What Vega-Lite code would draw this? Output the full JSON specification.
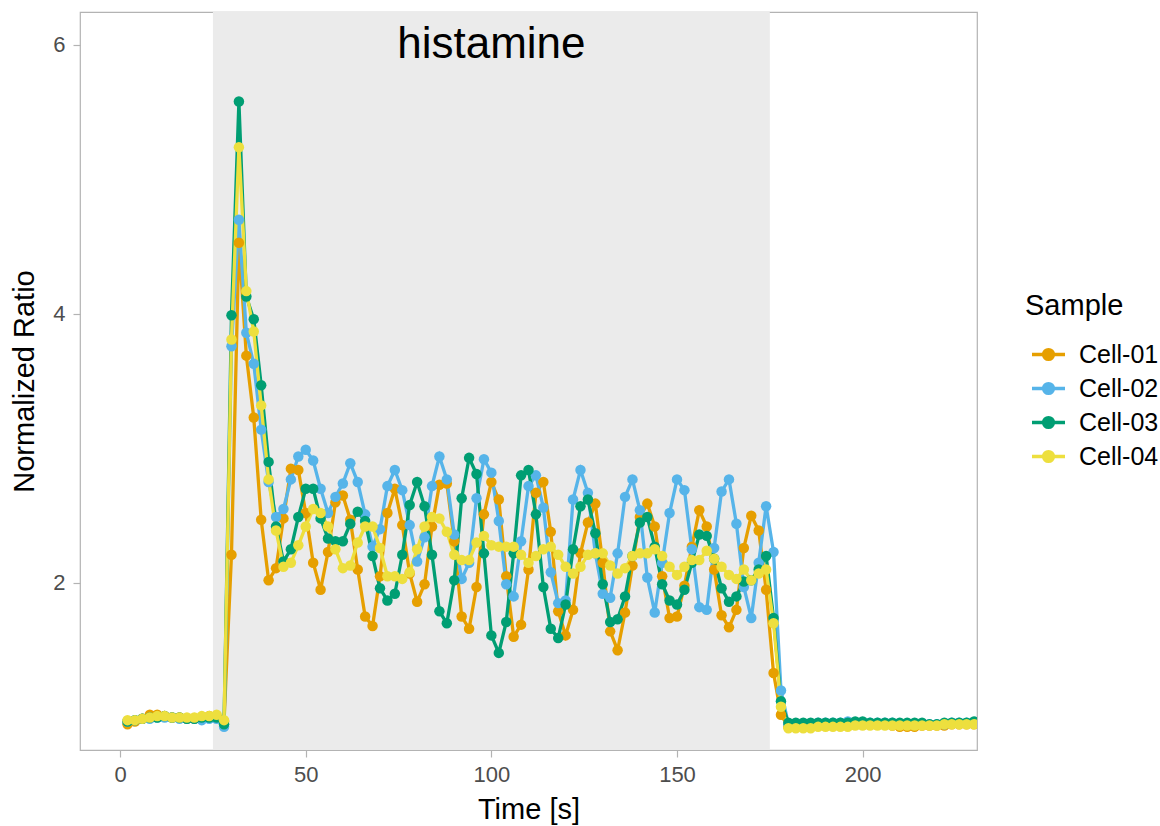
{
"$schema":"https://vega.github.io/schema/vega-lite/v6.json",
"width":897,"height":738,
"autosize":{"type":"none"},
"padding":{"left":80,"top":12,"right":183,"bottom":76},
"background":"white",
"config":{"view":{"stroke":"#B3B3B3","strokeWidth":1.2},"font":"Liberation Sans"},
"data":{"values":[
{"t":2,"s":"Cell-01","v":0.95},{"t":4,"s":"Cell-01","v":0.97},{"t":6,"s":"Cell-01","v":0.99},{"t":8,"s":"Cell-01","v":1.02},{"t":10,"s":"Cell-01","v":1.02},{"t":12,"s":"Cell-01","v":1.01},{"t":14,"s":"Cell-01","v":1.00},{"t":16,"s":"Cell-01","v":1.00},{"t":18,"s":"Cell-01","v":0.99},{"t":20,"s":"Cell-01","v":0.99},{"t":22,"s":"Cell-01","v":1.00},{"t":24,"s":"Cell-01","v":1.01},{"t":26,"s":"Cell-01","v":1.01},{"t":28,"s":"Cell-01","v":0.97},{"t":30,"s":"Cell-01","v":2.21},{"t":32,"s":"Cell-01","v":4.53},{"t":34,"s":"Cell-01","v":3.69},{"t":36,"s":"Cell-01","v":3.23},{"t":38,"s":"Cell-01","v":2.47},{"t":40,"s":"Cell-01","v":2.02},{"t":42,"s":"Cell-01","v":2.11},{"t":44,"s":"Cell-01","v":2.48},{"t":46,"s":"Cell-01","v":2.85},{"t":48,"s":"Cell-01","v":2.84},{"t":50,"s":"Cell-01","v":2.52},{"t":52,"s":"Cell-01","v":2.15},{"t":54,"s":"Cell-01","v":1.95},{"t":56,"s":"Cell-01","v":2.23},{"t":58,"s":"Cell-01","v":2.60},{"t":60,"s":"Cell-01","v":2.65},{"t":62,"s":"Cell-01","v":2.47},{"t":64,"s":"Cell-01","v":2.10},{"t":66,"s":"Cell-01","v":1.75},{"t":68,"s":"Cell-01","v":1.68},{"t":70,"s":"Cell-01","v":2.05},{"t":72,"s":"Cell-01","v":2.52},{"t":74,"s":"Cell-01","v":2.70},{"t":76,"s":"Cell-01","v":2.43},{"t":78,"s":"Cell-01","v":2.07},{"t":80,"s":"Cell-01","v":1.86},{"t":82,"s":"Cell-01","v":1.99},{"t":84,"s":"Cell-01","v":2.42},{"t":86,"s":"Cell-01","v":2.73},{"t":88,"s":"Cell-01","v":2.74},{"t":90,"s":"Cell-01","v":2.31},{"t":92,"s":"Cell-01","v":1.75},{"t":94,"s":"Cell-01","v":1.66},{"t":96,"s":"Cell-01","v":1.97},{"t":98,"s":"Cell-01","v":2.51},{"t":100,"s":"Cell-01","v":2.75},{"t":102,"s":"Cell-01","v":2.62},{"t":104,"s":"Cell-01","v":2.05},{"t":106,"s":"Cell-01","v":1.60},{"t":108,"s":"Cell-01","v":1.69},{"t":110,"s":"Cell-01","v":2.10},{"t":112,"s":"Cell-01","v":2.67},{"t":114,"s":"Cell-01","v":2.75},{"t":116,"s":"Cell-01","v":2.38},{"t":118,"s":"Cell-01","v":1.79},{"t":120,"s":"Cell-01","v":1.61},{"t":122,"s":"Cell-01","v":1.80},{"t":124,"s":"Cell-01","v":2.22},{"t":126,"s":"Cell-01","v":2.45},{"t":128,"s":"Cell-01","v":2.59},{"t":130,"s":"Cell-01","v":2.15},{"t":132,"s":"Cell-01","v":1.64},{"t":134,"s":"Cell-01","v":1.50},{"t":136,"s":"Cell-01","v":1.78},{"t":138,"s":"Cell-01","v":2.13},{"t":140,"s":"Cell-01","v":2.49},{"t":142,"s":"Cell-01","v":2.59},{"t":144,"s":"Cell-01","v":2.42},{"t":146,"s":"Cell-01","v":2.05},{"t":148,"s":"Cell-01","v":1.74},{"t":150,"s":"Cell-01","v":1.75},{"t":152,"s":"Cell-01","v":1.98},{"t":154,"s":"Cell-01","v":2.27},{"t":156,"s":"Cell-01","v":2.54},{"t":158,"s":"Cell-01","v":2.42},{"t":160,"s":"Cell-01","v":2.10},{"t":162,"s":"Cell-01","v":1.76},{"t":164,"s":"Cell-01","v":1.67},{"t":166,"s":"Cell-01","v":1.80},{"t":168,"s":"Cell-01","v":2.26},{"t":170,"s":"Cell-01","v":2.50},{"t":172,"s":"Cell-01","v":2.39},{"t":174,"s":"Cell-01","v":1.95},{"t":176,"s":"Cell-01","v":1.33},{"t":178,"s":"Cell-01","v":1.02},{"t":180,"s":"Cell-01","v":0.93},{"t":182,"s":"Cell-01","v":0.93},{"t":184,"s":"Cell-01","v":0.94},{"t":186,"s":"Cell-01","v":0.94},{"t":188,"s":"Cell-01","v":0.94},{"t":190,"s":"Cell-01","v":0.94},{"t":192,"s":"Cell-01","v":0.95},{"t":194,"s":"Cell-01","v":0.95},{"t":196,"s":"Cell-01","v":0.95},{"t":198,"s":"Cell-01","v":0.95},{"t":200,"s":"Cell-01","v":0.95},{"t":202,"s":"Cell-01","v":0.95},{"t":204,"s":"Cell-01","v":0.95},{"t":206,"s":"Cell-01","v":0.95},{"t":208,"s":"Cell-01","v":0.94},{"t":210,"s":"Cell-01","v":0.93},{"t":212,"s":"Cell-01","v":0.93},{"t":214,"s":"Cell-01","v":0.93},{"t":216,"s":"Cell-01","v":0.94},{"t":218,"s":"Cell-01","v":0.94},{"t":220,"s":"Cell-01","v":0.94},{"t":222,"s":"Cell-01","v":0.94},{"t":224,"s":"Cell-01","v":0.95},{"t":226,"s":"Cell-01","v":0.95},{"t":228,"s":"Cell-01","v":0.95},{"t":230,"s":"Cell-01","v":0.95},{"t":232,"s":"Cell-01","v":0.95},
{"t":2,"s":"Cell-02","v":0.97},{"t":4,"s":"Cell-02","v":0.98},{"t":6,"s":"Cell-02","v":0.99},{"t":8,"s":"Cell-02","v":0.99},{"t":10,"s":"Cell-02","v":1.00},{"t":12,"s":"Cell-02","v":1.00},{"t":14,"s":"Cell-02","v":1.00},{"t":16,"s":"Cell-02","v":0.99},{"t":18,"s":"Cell-02","v":0.99},{"t":20,"s":"Cell-02","v":0.99},{"t":22,"s":"Cell-02","v":0.98},{"t":24,"s":"Cell-02","v":0.99},{"t":26,"s":"Cell-02","v":0.99},{"t":28,"s":"Cell-02","v":0.93},{"t":30,"s":"Cell-02","v":3.76},{"t":32,"s":"Cell-02","v":4.70},{"t":34,"s":"Cell-02","v":3.86},{"t":36,"s":"Cell-02","v":3.63},{"t":38,"s":"Cell-02","v":3.14},{"t":40,"s":"Cell-02","v":2.75},{"t":42,"s":"Cell-02","v":2.49},{"t":44,"s":"Cell-02","v":2.55},{"t":46,"s":"Cell-02","v":2.77},{"t":48,"s":"Cell-02","v":2.94},{"t":50,"s":"Cell-02","v":2.99},{"t":52,"s":"Cell-02","v":2.91},{"t":54,"s":"Cell-02","v":2.70},{"t":56,"s":"Cell-02","v":2.52},{"t":58,"s":"Cell-02","v":2.64},{"t":60,"s":"Cell-02","v":2.74},{"t":62,"s":"Cell-02","v":2.89},{"t":64,"s":"Cell-02","v":2.75},{"t":66,"s":"Cell-02","v":2.51},{"t":68,"s":"Cell-02","v":2.27},{"t":70,"s":"Cell-02","v":2.40},{"t":72,"s":"Cell-02","v":2.72},{"t":74,"s":"Cell-02","v":2.84},{"t":76,"s":"Cell-02","v":2.69},{"t":78,"s":"Cell-02","v":2.43},{"t":80,"s":"Cell-02","v":2.16},{"t":82,"s":"Cell-02","v":2.34},{"t":84,"s":"Cell-02","v":2.72},{"t":86,"s":"Cell-02","v":2.94},{"t":88,"s":"Cell-02","v":2.77},{"t":90,"s":"Cell-02","v":2.36},{"t":92,"s":"Cell-02","v":2.03},{"t":94,"s":"Cell-02","v":2.15},{"t":96,"s":"Cell-02","v":2.63},{"t":98,"s":"Cell-02","v":2.92},{"t":100,"s":"Cell-02","v":2.82},{"t":102,"s":"Cell-02","v":2.46},{"t":104,"s":"Cell-02","v":1.99},{"t":106,"s":"Cell-02","v":1.90},{"t":108,"s":"Cell-02","v":2.31},{"t":110,"s":"Cell-02","v":2.72},{"t":112,"s":"Cell-02","v":2.80},{"t":114,"s":"Cell-02","v":2.56},{"t":116,"s":"Cell-02","v":2.08},{"t":118,"s":"Cell-02","v":1.85},{"t":120,"s":"Cell-02","v":1.87},{"t":122,"s":"Cell-02","v":2.62},{"t":124,"s":"Cell-02","v":2.84},{"t":126,"s":"Cell-02","v":2.67},{"t":128,"s":"Cell-02","v":2.22},{"t":130,"s":"Cell-02","v":1.92},{"t":132,"s":"Cell-02","v":1.89},{"t":134,"s":"Cell-02","v":2.22},{"t":136,"s":"Cell-02","v":2.64},{"t":138,"s":"Cell-02","v":2.77},{"t":140,"s":"Cell-02","v":2.54},{"t":142,"s":"Cell-02","v":2.04},{"t":144,"s":"Cell-02","v":1.78},{"t":146,"s":"Cell-02","v":2.15},{"t":148,"s":"Cell-02","v":2.52},{"t":150,"s":"Cell-02","v":2.77},{"t":152,"s":"Cell-02","v":2.69},{"t":154,"s":"Cell-02","v":2.25},{"t":156,"s":"Cell-02","v":1.82},{"t":158,"s":"Cell-02","v":1.80},{"t":160,"s":"Cell-02","v":2.26},{"t":162,"s":"Cell-02","v":2.68},{"t":164,"s":"Cell-02","v":2.77},{"t":166,"s":"Cell-02","v":2.44},{"t":168,"s":"Cell-02","v":1.97},{"t":170,"s":"Cell-02","v":1.74},{"t":172,"s":"Cell-02","v":2.15},{"t":174,"s":"Cell-02","v":2.57},{"t":176,"s":"Cell-02","v":2.23},{"t":178,"s":"Cell-02","v":1.20},{"t":180,"s":"Cell-02","v":0.95},{"t":182,"s":"Cell-02","v":0.95},{"t":184,"s":"Cell-02","v":0.95},{"t":186,"s":"Cell-02","v":0.95},{"t":188,"s":"Cell-02","v":0.96},{"t":190,"s":"Cell-02","v":0.96},{"t":192,"s":"Cell-02","v":0.96},{"t":194,"s":"Cell-02","v":0.96},{"t":196,"s":"Cell-02","v":0.97},{"t":198,"s":"Cell-02","v":0.96},{"t":200,"s":"Cell-02","v":0.96},{"t":202,"s":"Cell-02","v":0.96},{"t":204,"s":"Cell-02","v":0.96},{"t":206,"s":"Cell-02","v":0.96},{"t":208,"s":"Cell-02","v":0.96},{"t":210,"s":"Cell-02","v":0.95},{"t":212,"s":"Cell-02","v":0.95},{"t":214,"s":"Cell-02","v":0.95},{"t":216,"s":"Cell-02","v":0.95},{"t":218,"s":"Cell-02","v":0.95},{"t":220,"s":"Cell-02","v":0.95},{"t":222,"s":"Cell-02","v":0.95},{"t":224,"s":"Cell-02","v":0.96},{"t":226,"s":"Cell-02","v":0.96},{"t":228,"s":"Cell-02","v":0.96},{"t":230,"s":"Cell-02","v":0.96},{"t":232,"s":"Cell-02","v":0.96},
{"t":2,"s":"Cell-03","v":0.97},{"t":4,"s":"Cell-03","v":0.98},{"t":6,"s":"Cell-03","v":0.99},{"t":8,"s":"Cell-03","v":1.00},{"t":10,"s":"Cell-03","v":1.00},{"t":12,"s":"Cell-03","v":1.01},{"t":14,"s":"Cell-03","v":1.00},{"t":16,"s":"Cell-03","v":1.00},{"t":18,"s":"Cell-03","v":0.99},{"t":20,"s":"Cell-03","v":0.99},{"t":22,"s":"Cell-03","v":1.00},{"t":24,"s":"Cell-03","v":1.00},{"t":26,"s":"Cell-03","v":1.00},{"t":28,"s":"Cell-03","v":0.95},{"t":30,"s":"Cell-03","v":3.99},{"t":32,"s":"Cell-03","v":5.58},{"t":34,"s":"Cell-03","v":4.13},{"t":36,"s":"Cell-03","v":3.96},{"t":38,"s":"Cell-03","v":3.47},{"t":40,"s":"Cell-03","v":2.90},{"t":42,"s":"Cell-03","v":2.42},{"t":44,"s":"Cell-03","v":2.16},{"t":46,"s":"Cell-03","v":2.25},{"t":48,"s":"Cell-03","v":2.49},{"t":50,"s":"Cell-03","v":2.70},{"t":52,"s":"Cell-03","v":2.70},{"t":54,"s":"Cell-03","v":2.48},{"t":56,"s":"Cell-03","v":2.33},{"t":58,"s":"Cell-03","v":2.31},{"t":60,"s":"Cell-03","v":2.31},{"t":62,"s":"Cell-03","v":2.44},{"t":64,"s":"Cell-03","v":2.53},{"t":66,"s":"Cell-03","v":2.46},{"t":68,"s":"Cell-03","v":2.20},{"t":70,"s":"Cell-03","v":1.96},{"t":72,"s":"Cell-03","v":1.87},{"t":74,"s":"Cell-03","v":1.92},{"t":76,"s":"Cell-03","v":2.21},{"t":78,"s":"Cell-03","v":2.58},{"t":80,"s":"Cell-03","v":2.75},{"t":82,"s":"Cell-03","v":2.57},{"t":84,"s":"Cell-03","v":2.21},{"t":86,"s":"Cell-03","v":1.79},{"t":88,"s":"Cell-03","v":1.70},{"t":90,"s":"Cell-03","v":2.02},{"t":92,"s":"Cell-03","v":2.63},{"t":94,"s":"Cell-03","v":2.93},{"t":96,"s":"Cell-03","v":2.81},{"t":98,"s":"Cell-03","v":2.22},{"t":100,"s":"Cell-03","v":1.61},{"t":102,"s":"Cell-03","v":1.48},{"t":104,"s":"Cell-03","v":1.71},{"t":106,"s":"Cell-03","v":2.22},{"t":108,"s":"Cell-03","v":2.80},{"t":110,"s":"Cell-03","v":2.84},{"t":112,"s":"Cell-03","v":2.51},{"t":114,"s":"Cell-03","v":1.97},{"t":116,"s":"Cell-03","v":1.66},{"t":118,"s":"Cell-03","v":1.59},{"t":120,"s":"Cell-03","v":1.84},{"t":122,"s":"Cell-03","v":2.25},{"t":124,"s":"Cell-03","v":2.57},{"t":126,"s":"Cell-03","v":2.62},{"t":128,"s":"Cell-03","v":2.37},{"t":130,"s":"Cell-03","v":1.99},{"t":132,"s":"Cell-03","v":1.71},{"t":134,"s":"Cell-03","v":1.73},{"t":136,"s":"Cell-03","v":1.90},{"t":138,"s":"Cell-03","v":2.20},{"t":140,"s":"Cell-03","v":2.45},{"t":142,"s":"Cell-03","v":2.49},{"t":144,"s":"Cell-03","v":2.27},{"t":146,"s":"Cell-03","v":1.99},{"t":148,"s":"Cell-03","v":1.87},{"t":150,"s":"Cell-03","v":1.84},{"t":152,"s":"Cell-03","v":1.95},{"t":154,"s":"Cell-03","v":2.15},{"t":156,"s":"Cell-03","v":2.36},{"t":158,"s":"Cell-03","v":2.35},{"t":160,"s":"Cell-03","v":2.18},{"t":162,"s":"Cell-03","v":1.96},{"t":164,"s":"Cell-03","v":1.86},{"t":166,"s":"Cell-03","v":1.90},{"t":168,"s":"Cell-03","v":2.01},{"t":170,"s":"Cell-03","v":2.02},{"t":172,"s":"Cell-03","v":2.10},{"t":174,"s":"Cell-03","v":2.20},{"t":176,"s":"Cell-03","v":1.74},{"t":178,"s":"Cell-03","v":1.12},{"t":180,"s":"Cell-03","v":0.96},{"t":182,"s":"Cell-03","v":0.96},{"t":184,"s":"Cell-03","v":0.96},{"t":186,"s":"Cell-03","v":0.96},{"t":188,"s":"Cell-03","v":0.96},{"t":190,"s":"Cell-03","v":0.96},{"t":192,"s":"Cell-03","v":0.96},{"t":194,"s":"Cell-03","v":0.96},{"t":196,"s":"Cell-03","v":0.96},{"t":198,"s":"Cell-03","v":0.97},{"t":200,"s":"Cell-03","v":0.97},{"t":202,"s":"Cell-03","v":0.96},{"t":204,"s":"Cell-03","v":0.96},{"t":206,"s":"Cell-03","v":0.96},{"t":208,"s":"Cell-03","v":0.96},{"t":210,"s":"Cell-03","v":0.96},{"t":212,"s":"Cell-03","v":0.96},{"t":214,"s":"Cell-03","v":0.96},{"t":216,"s":"Cell-03","v":0.96},{"t":218,"s":"Cell-03","v":0.95},{"t":220,"s":"Cell-03","v":0.95},{"t":222,"s":"Cell-03","v":0.96},{"t":224,"s":"Cell-03","v":0.96},{"t":226,"s":"Cell-03","v":0.96},{"t":228,"s":"Cell-03","v":0.96},{"t":230,"s":"Cell-03","v":0.97},{"t":232,"s":"Cell-03","v":0.97},
{"t":2,"s":"Cell-04","v":0.98},{"t":4,"s":"Cell-04","v":0.98},{"t":6,"s":"Cell-04","v":0.99},{"t":8,"s":"Cell-04","v":1.00},{"t":10,"s":"Cell-04","v":1.01},{"t":12,"s":"Cell-04","v":1.01},{"t":14,"s":"Cell-04","v":1.00},{"t":16,"s":"Cell-04","v":1.00},{"t":18,"s":"Cell-04","v":1.00},{"t":20,"s":"Cell-04","v":1.00},{"t":22,"s":"Cell-04","v":1.01},{"t":24,"s":"Cell-04","v":1.01},{"t":26,"s":"Cell-04","v":1.02},{"t":28,"s":"Cell-04","v":0.98},{"t":30,"s":"Cell-04","v":3.81},{"t":32,"s":"Cell-04","v":5.24},{"t":34,"s":"Cell-04","v":4.17},{"t":36,"s":"Cell-04","v":3.87},{"t":38,"s":"Cell-04","v":3.32},{"t":40,"s":"Cell-04","v":2.77},{"t":42,"s":"Cell-04","v":2.39},{"t":44,"s":"Cell-04","v":2.12},{"t":46,"s":"Cell-04","v":2.15},{"t":48,"s":"Cell-04","v":2.28},{"t":50,"s":"Cell-04","v":2.42},{"t":52,"s":"Cell-04","v":2.55},{"t":54,"s":"Cell-04","v":2.52},{"t":56,"s":"Cell-04","v":2.42},{"t":58,"s":"Cell-04","v":2.25},{"t":60,"s":"Cell-04","v":2.11},{"t":62,"s":"Cell-04","v":2.13},{"t":64,"s":"Cell-04","v":2.30},{"t":66,"s":"Cell-04","v":2.42},{"t":68,"s":"Cell-04","v":2.42},{"t":70,"s":"Cell-04","v":2.26},{"t":72,"s":"Cell-04","v":2.05},{"t":74,"s":"Cell-04","v":2.05},{"t":76,"s":"Cell-04","v":2.03},{"t":78,"s":"Cell-04","v":2.08},{"t":80,"s":"Cell-04","v":2.25},{"t":82,"s":"Cell-04","v":2.42},{"t":84,"s":"Cell-04","v":2.49},{"t":86,"s":"Cell-04","v":2.48},{"t":88,"s":"Cell-04","v":2.38},{"t":90,"s":"Cell-04","v":2.21},{"t":92,"s":"Cell-04","v":2.17},{"t":94,"s":"Cell-04","v":2.17},{"t":96,"s":"Cell-04","v":2.30},{"t":98,"s":"Cell-04","v":2.35},{"t":100,"s":"Cell-04","v":2.28},{"t":102,"s":"Cell-04","v":2.27},{"t":104,"s":"Cell-04","v":2.27},{"t":106,"s":"Cell-04","v":2.27},{"t":108,"s":"Cell-04","v":2.21},{"t":110,"s":"Cell-04","v":2.15},{"t":112,"s":"Cell-04","v":2.20},{"t":114,"s":"Cell-04","v":2.25},{"t":116,"s":"Cell-04","v":2.27},{"t":118,"s":"Cell-04","v":2.21},{"t":120,"s":"Cell-04","v":2.12},{"t":122,"s":"Cell-04","v":2.07},{"t":124,"s":"Cell-04","v":2.12},{"t":126,"s":"Cell-04","v":2.21},{"t":128,"s":"Cell-04","v":2.22},{"t":130,"s":"Cell-04","v":2.22},{"t":132,"s":"Cell-04","v":2.13},{"t":134,"s":"Cell-04","v":2.07},{"t":136,"s":"Cell-04","v":2.11},{"t":138,"s":"Cell-04","v":2.20},{"t":140,"s":"Cell-04","v":2.22},{"t":142,"s":"Cell-04","v":2.22},{"t":144,"s":"Cell-04","v":2.25},{"t":146,"s":"Cell-04","v":2.20},{"t":148,"s":"Cell-04","v":2.12},{"t":150,"s":"Cell-04","v":2.06},{"t":152,"s":"Cell-04","v":2.12},{"t":154,"s":"Cell-04","v":2.17},{"t":156,"s":"Cell-04","v":2.17},{"t":158,"s":"Cell-04","v":2.24},{"t":160,"s":"Cell-04","v":2.18},{"t":162,"s":"Cell-04","v":2.12},{"t":164,"s":"Cell-04","v":2.06},{"t":166,"s":"Cell-04","v":2.03},{"t":168,"s":"Cell-04","v":2.10},{"t":170,"s":"Cell-04","v":2.02},{"t":172,"s":"Cell-04","v":2.07},{"t":174,"s":"Cell-04","v":2.10},{"t":176,"s":"Cell-04","v":1.70},{"t":178,"s":"Cell-04","v":1.08},{"t":180,"s":"Cell-04","v":0.92},{"t":182,"s":"Cell-04","v":0.92},{"t":184,"s":"Cell-04","v":0.92},{"t":186,"s":"Cell-04","v":0.92},{"t":188,"s":"Cell-04","v":0.93},{"t":190,"s":"Cell-04","v":0.93},{"t":192,"s":"Cell-04","v":0.93},{"t":194,"s":"Cell-04","v":0.93},{"t":196,"s":"Cell-04","v":0.93},{"t":198,"s":"Cell-04","v":0.94},{"t":200,"s":"Cell-04","v":0.94},{"t":202,"s":"Cell-04","v":0.94},{"t":204,"s":"Cell-04","v":0.94},{"t":206,"s":"Cell-04","v":0.94},{"t":208,"s":"Cell-04","v":0.94},{"t":210,"s":"Cell-04","v":0.94},{"t":212,"s":"Cell-04","v":0.94},{"t":214,"s":"Cell-04","v":0.94},{"t":216,"s":"Cell-04","v":0.94},{"t":218,"s":"Cell-04","v":0.94},{"t":220,"s":"Cell-04","v":0.94},{"t":222,"s":"Cell-04","v":0.95},{"t":224,"s":"Cell-04","v":0.95},{"t":226,"s":"Cell-04","v":0.95},{"t":228,"s":"Cell-04","v":0.95},{"t":230,"s":"Cell-04","v":0.95},{"t":232,"s":"Cell-04","v":0.95}
]},
"layer":[
{"data":{"values":[{"start":25,"end":175}]},
 "mark":{"type":"rect","color":"#EBEBEB"},
 "encoding":{
  "x":{"field":"start","type":"quantitative","scale":{"domain":[-10.8,230.8],"nice":false,"zero":false},
   "axis":{"title":"Time [s]","values":[0,50,100,150,200],"format":"d","grid":false,"domain":false,"tickSize":7,"tickColor":"#B3B3B3","tickWidth":1.2,"labelFontSize":22,"labelColor":"#4D4D4D","labelFont":"Liberation Sans","labelPadding":7,"titleFontSize":29,"titleFont":"Liberation Sans","titleFontWeight":"normal","titleColor":"black","titleBaseline":"alphabetic","titleY":68}},
  "x2":{"field":"end"}
 }},
{"data":{"values":[{"t":100,"v":6,"label":"histamine"}]},
 "mark":{"type":"text","fontSize":44,"font":"Liberation Sans","color":"black","baseline":"middle","align":"center"},
 "encoding":{"x":{"field":"t","type":"quantitative"},"y":{"field":"v","type":"quantitative"},"text":{"field":"label"}}},
{"mark":{"type":"line","strokeWidth":3.3,"clip":true},
 "encoding":{
  "x":{"field":"t","type":"quantitative"},
  "y":{"field":"v","type":"quantitative","scale":{"domain":[0.758,6.245],"nice":false,"zero":false},
   "axis":{"title":"Normalized Ratio","values":[2,4,6],"format":"d","grid":false,"domain":false,"tickSize":7,"tickColor":"#B3B3B3","tickWidth":1.2,"labelFontSize":22,"labelColor":"#4D4D4D","labelFont":"Liberation Sans","labelPadding":8,"titleFontSize":29,"titleFont":"Liberation Sans","titleFontWeight":"normal","titleColor":"black","titleBaseline":"alphabetic","titleX":-47,"titleY":369}},
  "color":{"field":"s","type":"nominal","scale":{"domain":["Cell-01","Cell-02","Cell-03","Cell-04"],"range":["#E69F00","#56B4E9","#009E73","#EDDF3E"]},
   "legend":{"title":"Sample","orient":"none","legendX":945,"legendY":280,"titleFontSize":29,"titleFont":"Liberation Sans","titleFontWeight":"normal","titleColor":"black","titlePadding":15,"labelFontSize":25,"labelFont":"Liberation Sans","labelColor":"black","labelOffset":12,"symbolType":"M-1,0L1,0M-0.3,0A0.3,0.3,0,1,0,0.3,0A0.3,0.3,0,1,0,-0.3,0","symbolSize":1089,"symbolStrokeWidth":3.3,"symbolOffset":5,"rowPadding":2,
    "encode":{"symbols":{"update":{"fill":{"scale":"color","field":"value"},"stroke":{"scale":"color","field":"value"},"opacity":{"value":1}}}}}}
 }},
{"mark":{"type":"point","filled":true,"size":110,"opacity":1,"clip":true},
 "encoding":{
  "x":{"field":"t","type":"quantitative"},
  "y":{"field":"v","type":"quantitative"},
  "color":{"field":"s","type":"nominal"}
 }}
]
}
